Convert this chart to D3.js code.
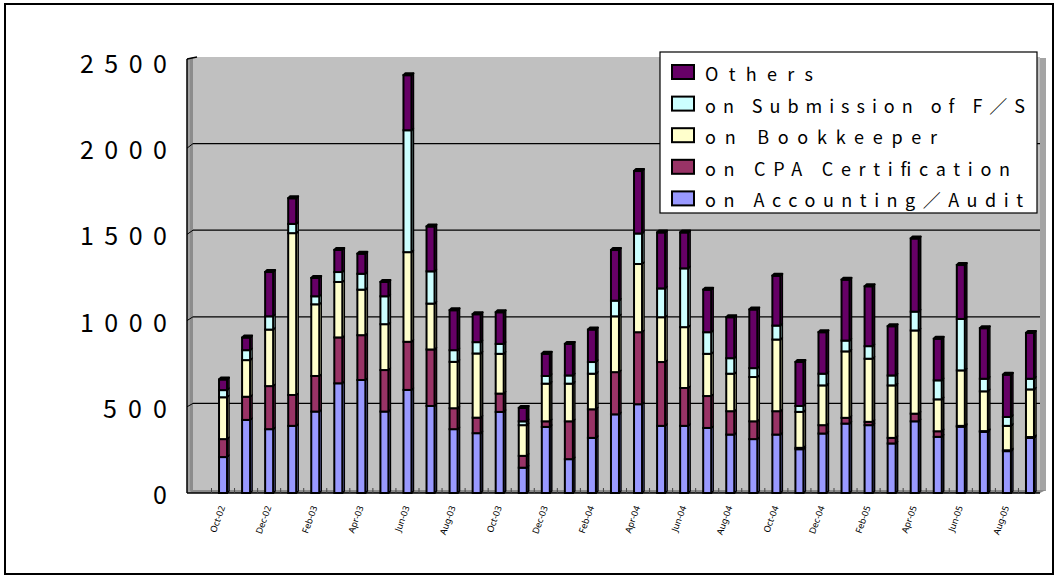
<!DOCTYPE html>
<html>
<head>
<meta charset="utf-8">
<script src="https://cdn.jsdelivr.net/npm/d3@7"></script>
<style>
  html, body { margin: 0; padding: 0; background: #fff; }
  svg { display: block; }
</style>
</head>
<body>
<svg id="chart" width="1059" height="579"></svg>
<script>
// Monthly enquiry counts, Oct 2002 – Sep 2005
const months = [
  "Oct-02","Nov-02","Dec-02","Jan-03","Feb-03","Mar-03","Apr-03","May-03","Jun-03","Jul-03","Aug-03","Sep-03",
  "Oct-03","Nov-03","Dec-03","Jan-04","Feb-04","Mar-04","Apr-04","May-04","Jun-04","Jul-04","Aug-04","Sep-04",
  "Oct-04","Nov-04","Dec-04","Jan-05","Feb-05","Mar-05","Apr-05","May-05","Jun-05","Jul-05","Aug-05","Sep-05"
];
const accountingAudit = [206,419,366,385,467,629,648,467,591,499,366,343,465,145,379,194,316,451,509,385,385,373,335,309,335,251,341,398,389,284,411,322,380,351,240,316];
const cpaCertification = [103,133,247,177,204,263,257,238,276,324,120,89,105,68,32,217,164,242,413,366,217,183,134,102,134,8,48,33,19,32,44,32,5,4,5,5];
const bookkeeper = [240,210,324,928,411,318,261,263,514,263,266,368,228,176,216,216,204,320,391,257,349,242,215,254,411,206,228,381,362,301,477,183,318,228,140,273];
const submissionFS = [41,57,76,53,46,57,91,160,699,185,67,65,57,22,44,47,67,90,175,165,337,124,89,51,80,34,67,62,72,57,108,109,295,72,51,61];
const others = [61,72,254,147,105,127,115,82,316,257,229,160,181,77,127,181,186,290,358,321,206,244,235,336,286,252,238,349,343,282,419,238,309,290,242,263];

const seriesNames = ["on Accounting\uFF0FAudit","on CPA Certification","on Bookkeeper","on Submission of F\uFF0FS","Others"];
const seriesColors = ["#9999ff","#993366","#ffffcc","#ccffff","#660066"];
const yTicks = [0,500,1000,1500,2000,2500];
const xTickLabels = months.filter((m, i) => i % 2 === 0);

const seriesValues = [accountingAudit, cpaCertification, bookkeeper, submissionFS, others];
const table = months.map((m, i) => {
  const row = { month: m };
  seriesNames.forEach((s, k) => { row[s] = seriesValues[k][i]; });
  return row;
});
const stacked = d3.stack().keys(seriesNames)(table);

const svg = d3.select("#chart");

// outer frame
svg.append("rect").attr("x", 5).attr("y", 4).attr("width", 1048).attr("height", 570)
  .attr("fill", "#fff").attr("stroke", "#000").attr("stroke-width", 2);

// scales: back wall, bar faces, front axis labels
const wallL = 193, wallR = 1040, depth = 6;
const yBack = d3.scaleLinear().domain([0, 2500]).range([490, 57]);
const yBar = d3.scaleLinear().domain([0, 2500]).range([493, 57]);
const yFront = d3.scaleLinear().domain([0, 2500]).range([493, 62]);
const x = d3.scaleBand().domain(months).range([211.5, 1041.5]).paddingInner(0).paddingOuter(0);

// back wall
svg.append("rect").attr("x", wallL).attr("y", yBack(2500)).attr("width", wallR - wallL)
  .attr("height", yBack(0) - yBack(2500)).attr("fill", "#c0c0c0");
// right edge of the wall
svg.append("rect").attr("x", wallR).attr("y", yBack(2500) + 1).attr("width", 6)
  .attr("height", yBack(0) - yBack(2500)).attr("fill", "#a4a4a4");
// left side wall
svg.append("polygon")
  .attr("points", [[wallL - depth, yBack(2500) + 2], [wallL, yBack(2500)], [wallL, yBack(0)], [wallL - depth, yBar(0)]].join(" "))
  .attr("fill", "#a0a0a0");
svg.append("rect").attr("x", wallL - 3).attr("y", yBack(2500) + 1).attr("width", 3)
  .attr("height", yBack(0) - yBack(2500)).attr("fill", "#8c8c8c");
// floor
svg.append("polygon")
  .attr("points", [[wallL - depth, yBar(0)], [wallL, yBack(0)], [wallR + 6, yBack(0)], [wallR, yBar(0)]].join(" "))
  .attr("fill", "#8a8a8a");

// gridlines on the back wall, with slanted ticks on the side wall
yTicks.filter(v => v > 0 && v < 2500).forEach(v => {
  svg.append("line").attr("x1", wallL).attr("x2", wallR).attr("y1", yBack(v)).attr("y2", yBack(v))
    .attr("stroke", "#000").attr("stroke-width", 1.2);
  svg.append("line").attr("x1", wallL - depth).attr("x2", wallL).attr("y1", yFront(v)).attr("y2", yBack(v))
    .attr("stroke", "#000").attr("stroke-width", 1);
});
// value axis line and top edge
svg.append("line").attr("x1", wallL - depth).attr("x2", wallL - depth).attr("y1", yBack(2500) + 2).attr("y2", yBar(0))
  .attr("stroke", "#000").attr("stroke-width", 1.5);
svg.append("line").attr("x1", wallL - depth).attr("x2", wallL + 4).attr("y1", yBack(2500) + 2).attr("y2", yBack(2500))
  .attr("stroke", "#000").attr("stroke-width", 1.5);
// category axis line
svg.append("line").attr("x1", wallL - depth).attr("x2", wallR).attr("y1", yBar(0)).attr("y2", yBar(0))
  .attr("stroke", "#000").attr("stroke-width", 1.5);
// category tick marks
months.forEach((m, i) => {
  const tx = x(m);
  svg.append("line").attr("x1", tx).attr("x2", tx).attr("y1", yBar(0)).attr("y2", yBar(0) - 5)
    .attr("stroke", "#444").attr("stroke-width", 1);
});

// stacked columns
const barW = 8, cap = 2;
const bars = svg.append("g");
stacked.forEach((layer, k) => {
  layer.forEach((d, i) => {
    const m = months[i];
    const cx = x(m) + x.bandwidth() / 2;
    const x0 = cx - barW / 2, x1 = cx + barW / 2;
    const yt = yBar(d[1]), yb = yBar(d[0]);
    // side face
    bars.append("polygon")
      .attr("points", [[x1, yb], [x1 + cap, yb - cap], [x1 + cap, yt - cap], [x1, yt]].join(" "))
      .attr("fill", seriesColors[k]).attr("stroke", "#000").attr("stroke-width", 1.5).attr("stroke-linejoin", "round");
    // front face
    bars.append("rect").attr("x", x0).attr("y", yt).attr("width", barW).attr("height", Math.max(0, yb - yt))
      .attr("fill", seriesColors[k]).attr("stroke", "#000").attr("stroke-width", 2);
    // top face on the uppermost segment
    if (k === stacked.length - 1) {
      bars.append("polygon")
        .attr("points", [[x0, yt], [x0 + cap, yt - cap], [x1 + cap, yt - cap], [x1, yt]].join(" "))
        .attr("fill", seriesColors[k]).attr("stroke", "#000").attr("stroke-width", 2).attr("stroke-linejoin", "round");
    }
  });
});

// value axis labels
const yLabelWidth = { "0": 14, "500": 64, "1000": 87, "1500": 87, "2000": 87, "2500": 87 };
yTicks.forEach(v => {
  const s = String(v);
  svg.append("text").attr("x", 167).attr("y", yFront(v))
    .attr("text-anchor", "end").attr("dominant-baseline", "central")
    .attr("font-family", "'Noto Sans CJK JP', 'Noto Sans', sans-serif").attr("font-size", 25)
    .attr("textLength", yLabelWidth[s]).attr("lengthAdjust", "spacing")
    .attr("fill", "#000").text(s);
});

// category labels
xTickLabels.forEach(m => {
  const lx = x(m) + x.bandwidth() / 2 - 1, ly = 506;
  svg.append("text").attr("transform", `translate(${lx},${ly}) rotate(-70)`)
    .attr("text-anchor", "end").attr("dominant-baseline", "central")
    .attr("font-family", "'Noto Sans', 'DejaVu Sans', sans-serif").attr("font-size", 9)
    .attr("fill", "#000").text(m);
});

// legend
const legend = svg.append("g");
legend.append("rect").attr("x", 660).attr("y", 52).attr("width", 377).attr("height", 161)
  .attr("fill", "#fff").attr("stroke", "#000").attr("stroke-width", 1.2);
const legendOrder = [4, 3, 2, 1, 0];
const legendWidths = [108, 320, 232, 305, 318];
legendOrder.forEach((k, r) => {
  const cy = 72 + r * 31.6;
  legend.append("rect").attr("x", 672).attr("y", cy - 7).attr("width", 22).attr("height", 14)
    .attr("fill", seriesColors[k]).attr("stroke", "#000").attr("stroke-width", 2);
  legend.append("text").attr("x", 705).attr("y", cy + 1).attr("dominant-baseline", "central")
    .attr("font-family", "'Noto Sans CJK JP', 'Noto Sans', sans-serif").attr("font-size", 18)
    .attr("textLength", legendWidths[r]).attr("lengthAdjust", "spacing")
    .attr("fill", "#000").text(seriesNames[k]);
});
</script>
</body>
</html>
